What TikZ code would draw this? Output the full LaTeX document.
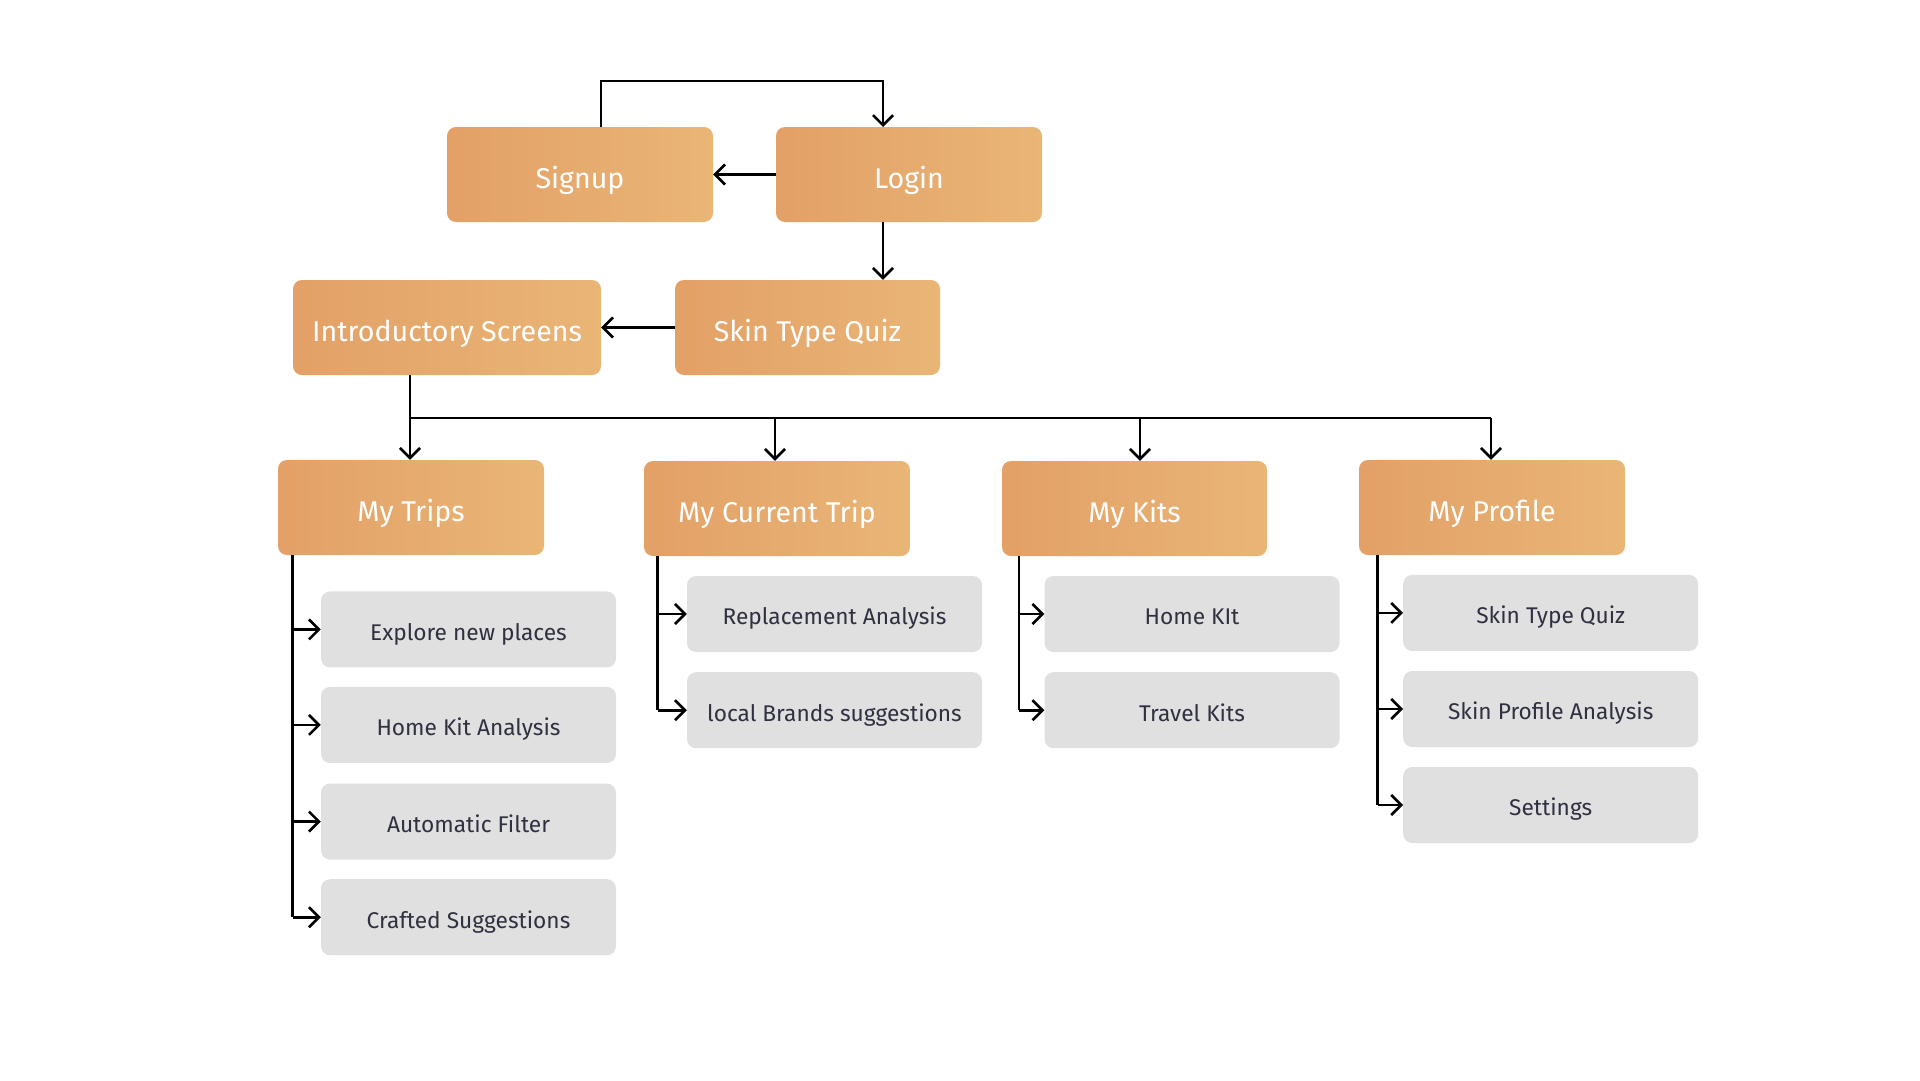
\documentclass[tikz,border=0pt]{standalone}
\usepackage{fontspec}
\setmainfont{Fira Sans}
\usetikzlibrary{arrows.meta}
\definecolor{orL}{HTML}{E3A067}
\definecolor{orR}{HTML}{E9B676}
\definecolor{greybox}{HTML}{E0E0E0}
\definecolor{greytext}{HTML}{2F3040}
\tikzset{
  mainbox/.style={rounded corners=9pt, left color=orL, right color=orR, draw=none,
    minimum width=266pt, minimum height=95pt, text=white, font=\fontsize{28.6}{32}\selectfont,
    inner sep=0pt, text height=28.4pt, text depth=0pt},
  subbox/.style={rounded corners=9pt, fill=greybox, draw=none,
    minimum width=295pt, minimum height=76pt, text=greytext, font=\fontsize{22.7}{26}\selectfont,
    inner sep=0pt, text height=21.8pt, text depth=0pt},
  conn/.style={line width=2.6pt, draw=black},
  arr/.style={conn, -{Straight Barb[length=10pt,width=20pt,line width=2.6pt]}},
}
\begin{document}
\begin{tikzpicture}[x=1pt,y=-1pt]
\useasboundingbox (0,0) rectangle (1920,1080);
% main boxes
\node[mainbox] (signup) at (580,174.5) {Signup};
\node[mainbox] (login) at (909,174.5) {Login};
\node[mainbox, minimum width=308pt] (intro) at (447,327.5) {Introductory Screens};
\node[mainbox, minimum width=265pt] (quiz) at (807.5,327.5) {Skin Type Quiz};
\node[mainbox] (trips) at (411,507.5) {My Trips};
\node[mainbox] (current) at (777,508.5) {My Current Trip};
\node[mainbox, minimum width=265pt] (kits) at (1134.5,508.5) {My Kits};
\node[mainbox] (profile) at (1492,507.5) {My Profile};
% sub boxes
\node[subbox] (t1) at (468.5,629.4) {Explore new places};
\node[subbox] (t2) at (468.5,724.9) {Home Kit Analysis};
\node[subbox] (t3) at (468.5,821.6) {Automatic Filter};
\node[subbox] (t4) at (468.5,917.2) {Crafted Suggestions};
\node[subbox] (c1) at (834.5,614) {Replacement Analysis};
\node[subbox] (c2) at (834.5,710.2) {local Brands suggestions};
\node[subbox] (k1) at (1192,614) {Home KIt};
\node[subbox] (k2) at (1192,710.2) {Travel Kits};
\node[subbox] (p1) at (1550.7,612.9) {Skin Type Quiz};
\node[subbox] (p2) at (1550.7,709) {Skin Profile Analysis};
\node[subbox] (p3) at (1550.7,805) {Settings};
% top connectors
\coordinate (su) at (601,127);
\coordinate (lo) at (883,127);
\draw[arr] (su) -- (601,81) -| (lo);
\draw[arr] (login.west) -- (signup.east);
\draw[arr] (login.south -| lo) -- (quiz.north -| lo);
\draw[arr] (quiz.west) -- (intro.east);
% bus
\coordinate (b0) at (410,418);
\draw[conn] (intro.south -| b0) -- (b0) -- (1491,418);
\draw[arr] (b0) -- (trips.north -| b0);
\draw[arr] (775,418) -- (current.north -| 775,0);
\draw[arr] (1140,418) -- (kits.north -| 1140,0);
\draw[arr] (1491,418) -- (profile.north -| 1491,0);
% children
\coordinate (tl) at (292.6,555);
\coordinate (cl) at (657.6,556);
\coordinate (kl) at (1018.8,556);
\coordinate (pl) at (1377.6,555);
\draw[conn] (tl) -- (tl |- t4.west);
\foreach \c in {t1,t2,t3,t4} \draw[arr] (tl |- \c.west) -- (\c.west);
\draw[conn] (cl) -- (cl |- c2.west);
\foreach \c in {c1,c2} \draw[arr] (cl |- \c.west) -- (\c.west);
\draw[conn] (kl) -- (kl |- k2.west);
\foreach \c in {k1,k2} \draw[arr] (kl |- \c.west) -- (\c.west);
\draw[conn] (pl) -- (pl |- p3.west);
\foreach \c in {p1,p2,p3} \draw[arr] (pl |- \c.west) -- (\c.west);
\end{tikzpicture}
\end{document}
